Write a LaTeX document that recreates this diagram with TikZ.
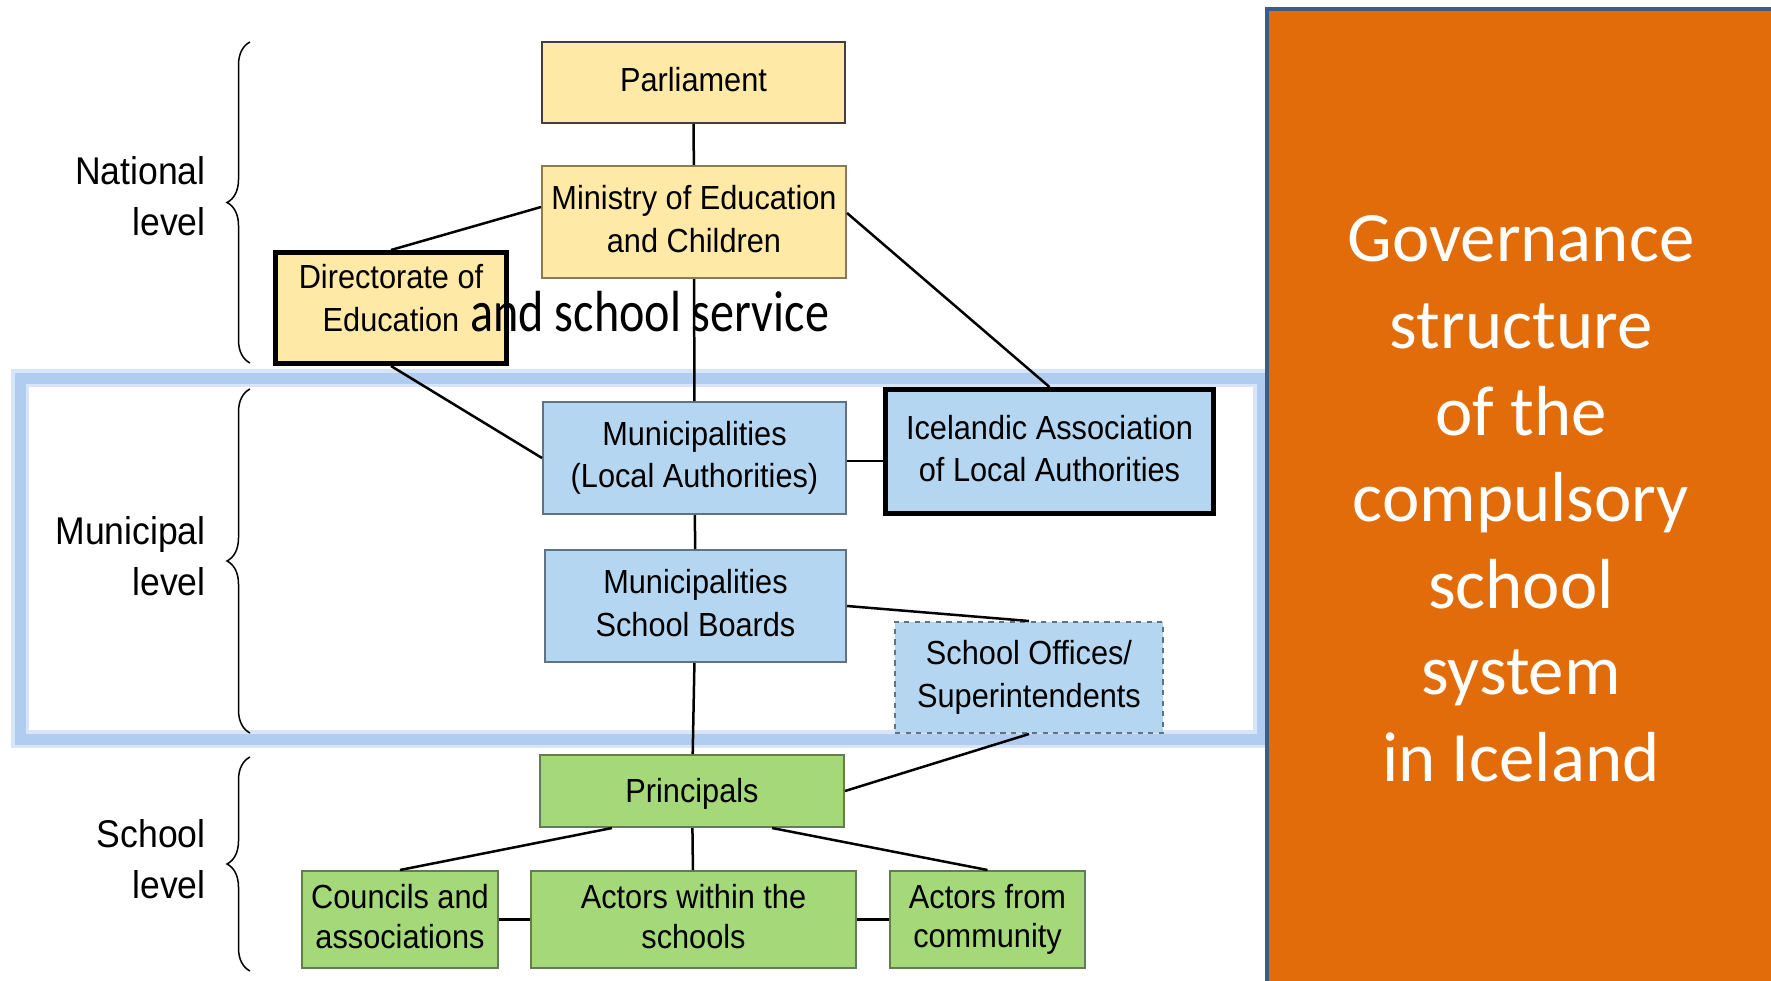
\documentclass[tikz,border=0pt]{standalone}
\usepackage{fontspec}
\setmainfont{Liberation Sans}[FakeStretch=0.92]
\newfontfamily\slidefont{Carlito}
\newfontfamily\notefont{Carlito}[FakeStretch=0.83]
\usepackage{xcolor}
\usepackage{tikz}
\usetikzlibrary{
	arrows.meta,
	calc,
	positioning,
	decorations.pathreplacing
}
\definecolor{PaleYellow}{RGB}{255,233,166}
\definecolor{YellowEdge}{RGB}{140,122,85}
\definecolor{PaleBlue}{RGB}{180,214,240}
\definecolor{BlueEdge}{RGB}{95,115,135}
\definecolor{LeafGreen}{RGB}{164,216,121}
\definecolor{GreenEdge}{RGB}{100,125,80}
\definecolor{FrameBlue}{RGB}{176,204,238}
\definecolor{BurntOrange}{RGB}{227,108,10}
\definecolor{SlateBlue}{RGB}{56,93,138}

\begin{document}
\begin{tikzpicture}[x=0.2mm, y=-0.2mm,
		box/.style={rectangle, line width=0.4mm, inner sep=0pt, align=center,
			font=\fontsize{19}{24.3}\selectfont,
			execute at begin node={\rule{0pt}{17pt}},
			execute at end node={\rule[-3.5pt]{0pt}{0pt}}},
		natbox/.style={box, fill=PaleYellow, draw=YellowEdge},
		munbox/.style={box, fill=PaleBlue, draw=BlueEdge},
		schbox/.style={box, fill=LeafGreen, draw=GreenEdge, font=\fontsize{19}{22.4}\selectfont,
			execute at begin node={\rule{0pt}{15.7pt}},
			execute at end node={\rule[-2pt]{0pt}{0pt}}},
		heavy/.style={draw=black, line width=1mm},
		link/.style={line width=0.5mm},
		levelbrace/.style={decorate, decoration={brace, amplitude=4.6mm}, line width=0.3mm},
		level/.style={anchor=east, align=right, inner sep=0pt, font=\fontsize{22}{29}\selectfont}]
	\useasboundingbox (0,0) rectangle (1771,981);

	% highlight round the municipal level
	\draw[line width=3.6mm, FrameBlue, opacity=0.5] (20,378) rectangle (1262,739);
	\draw[line width=2.2mm, FrameBlue] (20,378) rectangle (1262,739);

	% levels
	\draw[levelbrace] (250,363) -- (250,42);
	\draw[levelbrace] (250,733) -- (250,389);
	\draw[levelbrace] (250,971) -- (250,757);
	\node[level] (natlabel) at (206,196) {National\\level};
	\node[level] (munlabel) at (206,556) {Municipal\\level};
	\node[level] (schlabel) at (206,859) {School\\level};

	% national level
	\node[natbox, minimum width=60.6mm, minimum height=16.2mm, draw=black!75,
		execute at end node={\rule[-7.3pt]{0pt}{0pt}}] (parl) at (693.5,82.5) {Parliament};
	\node[natbox, minimum width=60.8mm, minimum height=22.4mm] (ministry) at (694,222) {Ministry of Education\\and Children};
	\node[natbox, heavy, minimum width=46.2mm, minimum height=22.2mm,
		execute at end node={\rule[-11.2pt]{0pt}{0pt}}] (dir) at (391,308) {Directorate of\\Education};

	% municipal level
	\node[munbox, minimum width=60.6mm, minimum height=22.4mm] (munic) at (694.5,458) {Municipalities\\(Local Authorities)};
	\node[munbox, heavy, minimum width=65.6mm, minimum height=24.8mm] (assoc) at (1049.5,451.5) {Icelandic Association\\of Local Authorities};
	\node[munbox, minimum width=60.2mm, minimum height=22.4mm] (boards) at (695.5,606) {Municipalities\\School Boards};
	\node[munbox, dashed, minimum width=53.6mm, minimum height=22.2mm] (offices) at (1029,677.5) {School Offices/\\Superintendents};

	% school level
	\node[schbox, minimum width=60.8mm, minimum height=14.4mm] (princ) at (692,791) {Principals};
	\node[schbox, minimum width=39.2mm, minimum height=19.4mm] (councils) at (400,919.5) {Councils and\\associations};
	\node[schbox, minimum width=65mm, minimum height=19.4mm] (within) at (693.5,919.5) {Actors within the\\schools};
	\node[schbox, minimum width=39mm, minimum height=19.4mm] (community) at (987.5,919.5) {Actors from\\community};

	\node[anchor=base west, inner sep=0pt, font=\notefont\fontsize{33}{40}\selectfont] (service) at (470,331) {and school service};

	% links
	\draw[link] (parl) -- (ministry);
	\draw[link] ([yshift=3mm]ministry.west) -- (dir.north);
	\draw[link] ([yshift=1.8mm]ministry.east) -- (assoc.north);
	\draw[link] (ministry) -- (munic);
	\draw[link] (dir.south) -- (munic.west);
	\draw[link] ([yshift=-0.6mm]munic.east) -- ([yshift=-0.6mm]munic.east -| assoc.west);
	\draw[link] (munic) -- (boards);
	\draw[link] (boards.east) -- (offices.north);
	\draw[link] (boards) -- (princ);
	\draw[link] (offices.south) -- (princ.east);
	\draw[link] ([xshift=-16mm]princ.south) -- (councils.north);
	\draw[link] (princ) -- (within);
	\draw[link] ([xshift=16mm]princ.south) -- (community.north);
	\draw[link] (councils) -- (within);
	\draw[link] (within) -- (community);

	% title panel
	\fill[BurntOrange] (1267,9) rectangle (1790,1000);
	\draw[SlateBlue, line width=0.8mm] (1267,1000) -- (1267,9) -- (1790,9);
	\node[align=center, text=white, inner sep=0pt, font=\slidefont\fontsize{40.3}{49.3}\selectfont] (title) at (1521,499) {Governance\\structure\\of the\\compulsory\\school\\system\\in Iceland};
\end{tikzpicture}
\end{document}
